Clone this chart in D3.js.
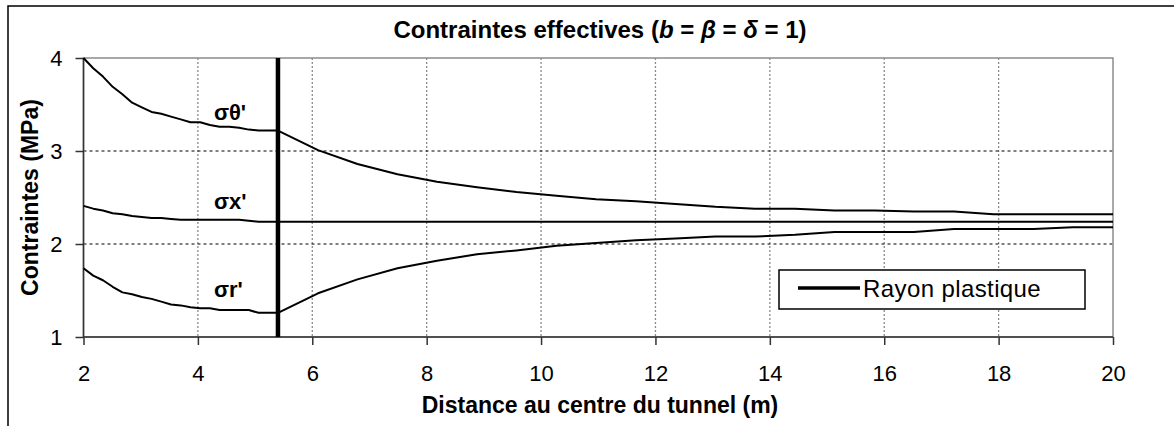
<!DOCTYPE html>
<html>
<head>
<meta charset="utf-8">
<script src="https://cdn.jsdelivr.net/npm/d3@7/dist/d3.min.js"></script>
<style>
  html, body { margin: 0; padding: 0; background: #fff; }
  svg { display: block; font-family: "Liberation Sans", Arial, sans-serif; }
</style>
</head>
<body>
<svg id="chart" width="1174" height="426"></svg>
<script>
// Distance from the tunnel centre (m): plastic zone then elastic zone
const distance = [2.00, 2.17, 2.34, 2.51, 2.68, 2.85, 3.02, 3.19, 3.36, 3.53, 3.70,
  3.87, 4.04, 4.21, 4.38, 4.55, 4.72, 4.89, 5.06, 5.23, 5.40,
  6.10, 6.79, 7.49, 8.18, 8.88, 9.57, 10.27, 10.96, 11.66, 12.35,
  13.05, 13.74, 14.44, 15.13, 15.83, 16.52, 17.22, 17.91, 18.61, 19.30, 20.00];

// Effective stresses (MPa)
const sigmaTheta = [4.00, 3.89, 3.80, 3.69, 3.61, 3.52, 3.47, 3.42, 3.40, 3.37, 3.34,
  3.31, 3.31, 3.28, 3.26, 3.26, 3.25, 3.23, 3.22, 3.22, 3.22,
  3.01, 2.86, 2.75, 2.67, 2.61, 2.56, 2.52, 2.48, 2.46, 2.43,
  2.40, 2.38, 2.38, 2.36, 2.36, 2.35, 2.35, 2.32, 2.32, 2.32, 2.32];

const sigmaX = [2.41, 2.38, 2.36, 2.33, 2.32, 2.30, 2.29, 2.28, 2.28, 2.27, 2.26,
  2.26, 2.26, 2.26, 2.26, 2.26, 2.26, 2.25, 2.24, 2.24, 2.24,
  2.24, 2.24, 2.24, 2.24, 2.24, 2.24, 2.24, 2.24, 2.24, 2.24,
  2.24, 2.24, 2.24, 2.24, 2.24, 2.24, 2.24, 2.24, 2.24, 2.24, 2.24];

const sigmaR = [1.74, 1.66, 1.61, 1.54, 1.48, 1.46, 1.43, 1.41, 1.38, 1.35, 1.34,
  1.32, 1.31, 1.31, 1.29, 1.29, 1.29, 1.29, 1.26, 1.26, 1.26,
  1.47, 1.62, 1.74, 1.82, 1.89, 1.93, 1.98, 2.01, 2.04, 2.06,
  2.08, 2.08, 2.10, 2.13, 2.13, 2.13, 2.16, 2.16, 2.16, 2.18, 2.18];

// Plastic radius (m)
const plasticRadius = 5.4;

// Axis ticks
const xTicks = [2, 4, 6, 8, 10, 12, 14, 16, 18, 20];
const yTicks = [1, 2, 3, 4];

const svg = d3.select("#chart");

// Outer chart frame
svg.append("rect")
  .attr("x", 8).attr("y", 6).attr("width", 1300).attr("height", 600)
  .attr("fill", "none").attr("stroke", "#000").attr("stroke-width", 1.5);

const x = d3.scaleLinear().domain([2, 20]).range([83.5, 1113]);
const y = d3.scaleLinear().domain([1, 4]).range([337, 58]);

// Vertical gridlines (grey dotted)
svg.append("g").selectAll("line")
  .data(xTicks.slice(1, -1))
  .join("line")
  .attr("x1", d => x(d)).attr("x2", d => x(d))
  .attr("y1", y(4)).attr("y2", y(1))
  .attr("stroke", "#8a8a8a").attr("stroke-width", 1.3)
  .attr("stroke-dasharray", "2,2");

// Horizontal gridlines (black dashed)
svg.append("g").selectAll("line")
  .data(yTicks.slice(1, -1))
  .join("line")
  .attr("x1", x(2)).attr("x2", x(20))
  .attr("y1", d => y(d)).attr("y2", d => y(d))
  .attr("stroke", "#000").attr("stroke-width", 1)
  .attr("stroke-dasharray", "3,3");

// Plot area border
svg.append("rect")
  .attr("x", x(2)).attr("y", y(4))
  .attr("width", x(20) - x(2)).attr("height", y(1) - y(4))
  .attr("fill", "none").attr("stroke", "#8c8c8c").attr("stroke-width", 1.5);

// Axes
const xAxis = d3.axisBottom(x).tickValues(xTicks).tickSize(8).tickPadding(20)
  .tickFormat(d3.format("d"));
const yAxis = d3.axisLeft(y).tickValues(yTicks).tickSize(8).tickPadding(13)
  .tickFormat(d3.format("d"));

const gx = svg.append("g").attr("transform", `translate(0,${y(1)})`).call(xAxis);
const gy = svg.append("g").attr("transform", `translate(${x(2)},0)`).call(yAxis);

[gx, gy].forEach(g => {
  g.select(".domain").attr("stroke", "#333").attr("stroke-width", 1.5);
  g.selectAll(".tick line").attr("stroke", "#333").attr("stroke-width", 1.5);
  g.selectAll(".tick text")
    .attr("fill", "#000")
    .style("font-family", "'Liberation Sans', Arial, sans-serif")
    .style("font-size", "22px");
});
gx.select(".domain").attr("d", `M${x(2)},0H${x(20)}`);
gy.select(".domain").attr("d", `M0,${y(1)}V${y(4)}`);

// Stress curves
const line = d3.line()
  .x((d, i) => x(distance[i]))
  .y(d => y(d));

[sigmaTheta, sigmaX, sigmaR].forEach(series => {
  svg.append("path")
    .datum(series)
    .attr("d", line)
    .attr("fill", "none")
    .attr("stroke", "#000")
    .attr("stroke-width", 2)
    .attr("stroke-linejoin", "round");
});

// Plastic radius marker
svg.append("line")
  .attr("x1", x(plasticRadius)).attr("x2", x(plasticRadius))
  .attr("y1", y(4)).attr("y2", y(1))
  .attr("stroke", "#000").attr("stroke-width", 4.5);

// Curve labels
const curveLabels = [
  { text: "σθ'", at: [4.28, 3.33] },
  { text: "σx'", at: [4.28, 2.38] },
  { text: "σr'", at: [4.28, 1.43] }
];
svg.append("g").selectAll("text")
  .data(curveLabels)
  .join("text")
  .attr("x", d => x(d.at[0]))
  .attr("y", d => y(d.at[1]))
  .attr("font-size", 22)
  .attr("font-weight", "bold")
  .attr("fill", "#000")
  .text(d => d.text);

// Title
const title = svg.append("text")
  .attr("x", 600).attr("y", 38)
  .attr("text-anchor", "middle")
  .attr("font-size", 24)
  .attr("font-weight", "bold")
  .attr("fill", "#000");
title.append("tspan").text("Contraintes effectives (");
title.append("tspan").attr("font-style", "italic").text("b");
title.append("tspan").text(" = ");
title.append("tspan").attr("font-style", "italic").text("β");
title.append("tspan").text(" = ");
title.append("tspan").attr("font-style", "italic").text("δ");
title.append("tspan").text(" = 1)");

// Axis titles
svg.append("text")
  .attr("x", 600).attr("y", 413)
  .attr("text-anchor", "middle")
  .attr("font-size", 23).attr("font-weight", "bold")
  .attr("fill", "#000")
  .text("Distance au centre du tunnel (m)");

svg.append("text")
  .attr("transform", `translate(38,${(y(1) + y(4)) / 2}) rotate(-90)`)
  .attr("text-anchor", "middle")
  .attr("font-size", 23).attr("font-weight", "bold")
  .attr("fill", "#000")
  .text("Contraintes (MPa)");

// Legend
const legend = svg.append("g");
legend.append("rect")
  .attr("x", 779).attr("y", 270).attr("width", 306).attr("height", 39)
  .attr("fill", "#fff").attr("stroke", "#000").attr("stroke-width", 1.5);
legend.append("line")
  .attr("x1", 798).attr("x2", 860).attr("y1", 288).attr("y2", 288)
  .attr("stroke", "#000").attr("stroke-width", 3.5);
legend.append("text")
  .attr("x", 863).attr("y", 297)
  .attr("font-size", 24)
  .attr("letter-spacing", 0.4)
  .attr("fill", "#000")
  .text("Rayon plastique");
</script>
</body>
</html>
